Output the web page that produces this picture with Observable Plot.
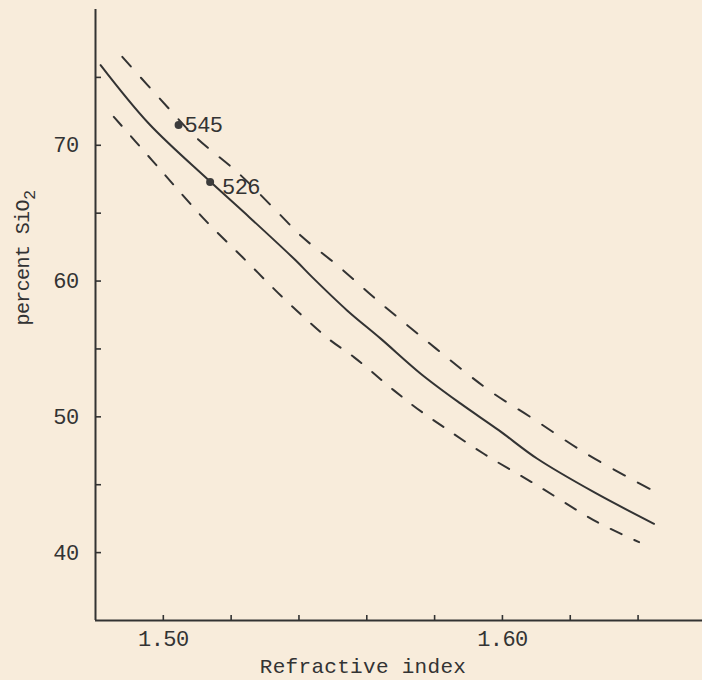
<!DOCTYPE html>
<html>
<head>
<meta charset="utf-8">
<script src="https://cdn.jsdelivr.net/npm/d3@7"></script>
<script src="https://cdn.jsdelivr.net/npm/@observablehq/plot@0.6"></script>
<style>
  html, body { margin: 0; padding: 0; background: #f8ecdb; }
  #chart svg { display: block; }
</style>
</head>
<body>
<div id="chart"></div>
<script>
// Refractive index vs percent SiO2
const midX  = [1.4815, 1.4957, 1.5134, 1.5242, 1.5390, 1.5439, 1.5542, 1.5641, 1.5759, 1.5877, 1.5990, 1.6103, 1.6270, 1.6447];
const midY  = [75.90,  71.60,  67.42,  64.97,  61.53,  60.29,  57.84,  55.76,  53.18,  50.97,  49.00,  46.91,  44.45,  42.12];

const upperX = [1.4879, 1.5012, 1.5095, 1.5223, 1.5341, 1.5410, 1.5513, 1.5631, 1.5768, 1.5896, 1.5975, 1.6083, 1.6240, 1.6388, 1.6472];
const upperY = [76.51,  72.82,  70.61,  67.91,  64.97,  63.24,  61.16,  58.58,  55.76,  53.18,  51.70,  49.98,  47.40,  45.31,  44.21];

const lowerX = [1.4854, 1.4967, 1.5036, 1.5124, 1.5233, 1.5351, 1.5425, 1.5493, 1.5562, 1.5680, 1.5749, 1.5827, 1.5945, 1.6103, 1.6280, 1.6403];
const lowerY = [72.09,  68.89,  66.93,  64.47,  61.77,  58.82,  57.10,  55.63,  54.40,  51.95,  50.60,  49.24,  47.28,  44.94,  42.24,  40.77];

const sampleNames = ["545", "526"];
const sampleX = [1.5045, 1.5138];
const sampleY = [71.5, 67.3];

const xTickValues = [1.50, 1.52, 1.54, 1.56, 1.58, 1.60, 1.62, 1.64];
const xTickLabels = [1.50, 1.60];
const yTickValues = [40, 45, 50, 55, 60, 65, 70, 75];
const yTickLabels = [40, 50, 60, 70];

const xLabel = "Refractive index";
const yLabelMain = "percent SiO";
const yLabelSub = "2";

const mid = midX.map((x, i) => ({x, y: midY[i]}));
const upper = upperX.map((x, i) => ({x, y: upperY[i]}));
const lower = lowerX.map((x, i) => ({x, y: lowerY[i]}));
const samples = sampleNames.map((name, i) => ({name, x: sampleX[i], y: sampleY[i]}));

const W = 702, H = 680;
const mL = 95, mR = 0, mT = 9, mB = 60;
const ink = "#333333";
const font = "'Liberation Mono', 'DejaVu Sans Mono', monospace";

const chart = Plot.plot({
  width: W, height: H,
  marginLeft: mL, marginRight: mR, marginTop: mT, marginBottom: mB,
  x: {domain: [1.48, 1.659]},
  y: {domain: [35, 80]},
  style: {background: "transparent", fontFamily: font, fontSize: "22px", color: ink, letterSpacing: "-0.6px"},
  marks: [
    Plot.axisX(xTickLabels, {tickSize: 0, tickPadding: 10, label: null, tickFormat: d => d.toFixed(2), fill: ink}),
    Plot.axisY(yTickLabels, {tickSize: 0, tickPadding: 17, label: null, tickFormat: d => String(d), fill: ink}),
    Plot.tickX(xTickValues, {x: d => d, stroke: ink, strokeWidth: 1.6, insetTop: H - mT - mB - 5}),
    Plot.tickY(yTickValues, {y: d => d, stroke: ink, strokeWidth: 1.6, insetRight: W - mL - mR - 6}),
    Plot.ruleX([1.48], {stroke: ink, strokeWidth: 2}),
    Plot.ruleY([35], {stroke: ink, strokeWidth: 2}),
    Plot.line(mid, {x: "x", y: "y", stroke: ink, strokeWidth: 2, curve: "catmull-rom"}),
    Plot.line(upper, {x: "x", y: "y", stroke: ink, strokeWidth: 2, strokeDasharray: "13,15", curve: "catmull-rom"}),
    Plot.line(lower, {x: "x", y: "y", stroke: ink, strokeWidth: 2, strokeDasharray: "12,14", curve: "catmull-rom"}),
    Plot.dot(samples, {x: "x", y: "y", r: 4, fill: "#3c3c3c", stroke: "none"}),
    Plot.text(samples.slice(0, 1), {x: "x", y: "y", text: "name", textAnchor: "start", dx: 6, dy: 0, fill: ink, fontSize: 22}),
    Plot.text(samples.slice(1), {x: "x", y: "y", text: "name", textAnchor: "start", dx: 12, dy: 5, fill: ink, fontSize: 22})
  ]
});

document.getElementById("chart").appendChild(chart);

const svg = d3.select(chart);
svg.append("text")
  .attr("x", 363).attr("y", 673)
  .attr("text-anchor", "middle")
  .attr("font-family", font).attr("font-size", 21)
  .attr("letter-spacing", "0.3px")
  .attr("fill", ink)
  .text(xLabel);

const yl = svg.append("text")
  .attr("transform", "translate(29,258) rotate(-90)")
  .attr("text-anchor", "middle")
  .attr("font-family", font).attr("font-size", 20)
  .attr("fill", ink);
yl.append("tspan").text(yLabelMain);
yl.append("tspan").attr("dy", 6).attr("font-size", 17).text(yLabelSub);
</script>
</body>
</html>
